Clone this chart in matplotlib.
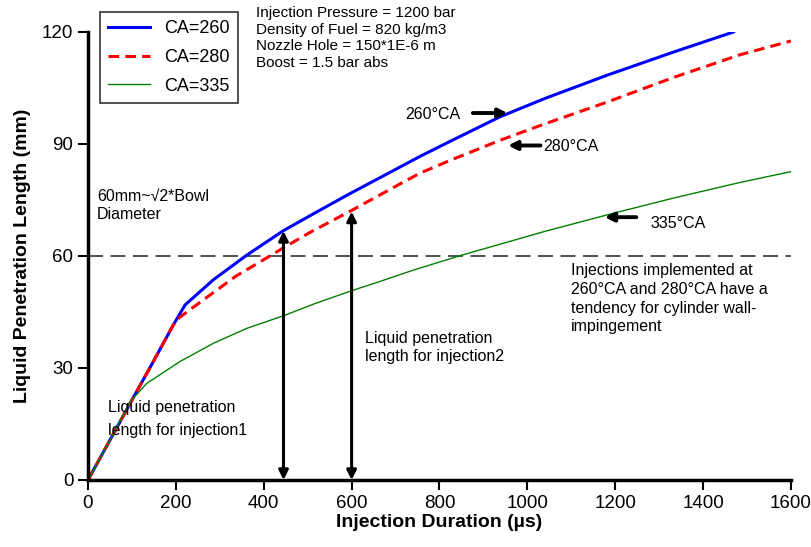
import numpy as np
import matplotlib
matplotlib.use("Agg")
from matplotlib import pyplot as plt

plt.rcParams["font.family"] = ["Liberation Sans", "DejaVu Sans"]

# values
dur_260 = [0, 50, 100, 150, 194, 221, 285, 361, 445, 513, 596, 665, 756, 824,
           938, 1040, 1181, 1332, 1469]
len_260 = [0, 10.7, 21.4, 32, 41.5, 46.9, 53.6, 60.2, 66.8, 71.3, 76.7, 81,
           86.7, 90.7, 97.3, 102.2, 108.4, 114.6, 120]

dur_280 = [0, 50, 100, 150, 194, 209, 262, 338, 414, 445, 505, 600, 710, 756,
           824, 938, 1040, 1181, 1332, 1484, 1600]
len_280 = [0, 10.7, 21.4, 32, 41.5, 43.6, 48.2, 54.7, 60, 62.2, 66.3, 72.2,
           79.3, 82.2, 85.6, 91, 95.4, 101.2, 107.8, 113.9, 117.6]

dur_335 = [0, 50, 96, 134, 209, 285, 361, 445, 520, 600, 665, 740, 850, 1040,
           1181, 1332, 1484, 1600]
len_335 = [0, 10.7, 21, 25.9, 31.7, 36.6, 40.6, 44, 47.4, 50.7, 53.2, 56.2,
           60.2, 66.6, 71, 75.5, 79.7, 82.6]

wall_limit = 60
inj1 = (445, 66.7)
inj2 = (600, 71.9)

info_text = ("Injection Pressure = 1200 bar\nDensity of Fuel = 820 kg/m3\n"
             "Nozzle Hole = 150*1E-6 m\nBoost = 1.5 bar abs")

fig = plt.figure(figsize=(8.11, 5.47), dpi=100)
ax = fig.add_axes([0.1085, 0.1225, 0.8668, 0.819])

ax.plot(dur_260, len_260, color="#0000ff", lw=2.2, label="CA=260")
ax.plot(dur_280, len_280, color="#ff0000", lw=2.2, ls=(0, (3.5, 2)), label="CA=280")
ax.plot(dur_335, len_335, color="#008000", lw=1.0, label="CA=335")
ax.axhline(wall_limit, color="#333333", lw=1.2, ls=(0, (9, 4.5)), zorder=1)

for x, y in (inj1, inj2):
    ax.annotate("", xy=(x, y), xytext=(x, 0),
                arrowprops=dict(arrowstyle="<|-|>", color="black", lw=2.2,
                                mutation_scale=14, shrinkA=0, shrinkB=0))

def side_arrow(x0, x1, y):
    ax.annotate("", xy=(x1, y), xytext=(x0, y),
                arrowprops=dict(arrowstyle="-|>", color="black", lw=2.8,
                                mutation_scale=13, shrinkA=0, shrinkB=0))

side_arrow(876, 955, 98.3)
side_arrow(1030, 956, 89.6)
side_arrow(1248, 1176, 70.4)

fs = 11.5
ax.text(848, 97.8, "260°CA", fontsize=fs, ha="right", va="center")
ax.text(1037, 89.2, "280°CA", fontsize=fs, ha="left", va="center")
ax.text(1281, 68.7, "335°CA", fontsize=fs, ha="left", va="center")
ax.text(20, 78, "60mm~√2*Bowl\nDiameter", fontsize=fs, va="top", linespacing=1.25)
ax.text(45, 21.5, "Liquid penetration\nlength for injection1", fontsize=fs,
        va="top", linespacing=1.7)
ax.text(630, 40, "Liquid penetration\nlength for injection2", fontsize=fs,
        va="top", linespacing=1.3)
ax.text(1099, 58, "Injections implemented at\n260°CA and 280°CA have a\n"
        "tendency for cylinder wall-\nimpingement", fontsize=fs, va="top",
        linespacing=1.3)
fig.text(256 / 811, 1 - 6 / 547, info_text, fontsize=11, va="top",
         linespacing=1.25)

ax.set_xlim(0, 1600)
ax.set_ylim(0, 120)
ax.set_xticks(np.arange(0, 1601, 200))
ax.set_yticks(np.arange(0, 121, 30))
ax.tick_params(labelsize=13.5, width=1.5, length=7, direction="out")
for side in ("top", "right"):
    ax.spines[side].set_visible(False)
for side in ("left", "bottom"):
    ax.spines[side].set_linewidth(2.5)

ax.set_xlabel("Injection Duration (µs)", fontsize=14, fontweight="bold", labelpad=2)
ax.set_ylabel("Liquid Penetration Length (mm)", fontsize=14,
              fontweight="bold", labelpad=8)

leg = ax.legend(loc="upper left", bbox_to_anchor=(100 / 811, 1 - 12 / 547),
                bbox_transform=fig.transFigure, borderaxespad=0, fontsize=13,
                frameon=True, fancybox=False, edgecolor="black",
                handlelength=2.3, labelspacing=0.65, borderpad=0.45,
                handletextpad=0.8)
leg.get_frame().set_linewidth(1.2)

fig.savefig("out.png", dpi=100)
